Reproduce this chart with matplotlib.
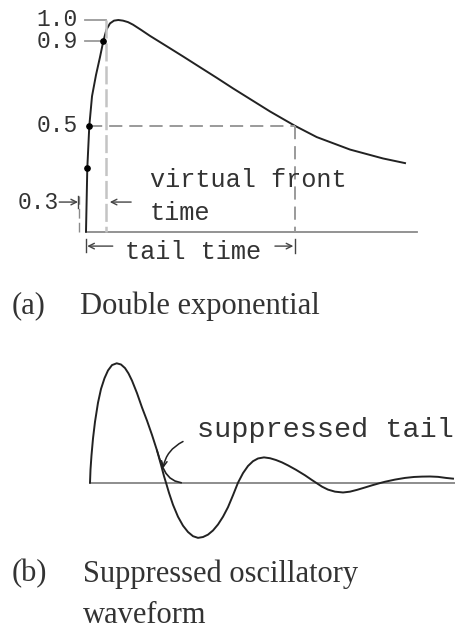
import numpy as np
import matplotlib
matplotlib.use("Agg")
from matplotlib import pyplot as plt

plt.rcParams['lines.scale_dashes'] = False

# (a) double exponential impulse, time in us (tail time = 50), per-unit voltage
imp_t = [0, 0.31, 0.79, 1.44, 2.39, 3.35, 4.14, 4.90, 5.74, 6.70, 7.73, 8.85,
         10.05, 11.24, 13.2, 15.31, 19.31, 23.21, 27.27, 31.27, 35.17, 39.23,
         44.02, 50.0, 55.19, 63.16, 71.05, 76.32]
imp_v = [0, 0.30, 0.50, 0.64, 0.74, 0.825, 0.90, 0.955, 0.984, 0.997, 1.0, 0.997,
         0.99, 0.978, 0.953, 0.925, 0.876, 0.828, 0.777, 0.727, 0.677, 0.627,
         0.568, 0.50, 0.447, 0.388, 0.346, 0.324]
level_marks = [0.3, 0.5, 0.9]
level_labels = ['1.0', '0.9', '0.5']
level_vals = [1.0, 0.9, 0.5]
tail_time = 50.0

# (b) oscillatory waveform and its suppressed tail
osc_t = [0, 0.05, 0.15, 0.3, 0.5, 0.8, 1.1, 1.45, 1.8, 2.2, 2.67, 3.1, 3.5,
         3.85, 4.2, 4.7, 5.2, 5.7, 6.2, 6.7, 7.1, 7.4, 7.6, 7.9, 8.3, 8.8, 9.3,
         9.8, 10.3, 10.8, 11.3, 11.8, 12.3, 12.8, 13.3, 13.8, 14.3, 14.8, 15.3,
         15.8, 16.3, 16.8, 17.4, 18.0, 18.6, 19.2, 19.8, 20.6, 21.5, 22.2, 22.6,
         23.2, 23.8, 24.5, 25.3, 26.0, 26.7, 27.5, 28.2, 29.0, 29.5, 30.5, 31.5,
         32.4, 33.2, 34.0, 34.8, 35.6, 36.3]
osc_v = [0, 0.11, 0.23, 0.37, 0.51, 0.67, 0.785, 0.875, 0.94, 0.985, 1.0, 0.99,
         0.96, 0.915, 0.855, 0.75, 0.63, 0.52, 0.40, 0.27, 0.15, 0.055, 0.0,
         -0.085, -0.185, -0.285, -0.36, -0.413, -0.448, -0.462, -0.455, -0.435,
         -0.40, -0.35, -0.285, -0.205, -0.105, 0.0, 0.08, 0.14, 0.18, 0.203,
         0.212, 0.205, 0.19, 0.17, 0.145, 0.108, 0.062, 0.022, 0.0, -0.033,
         -0.058, -0.075, -0.082, -0.075, -0.06, -0.04, -0.022, -0.003, 0.008,
         0.026, 0.040, 0.048, 0.051, 0.052, 0.049, 0.040, 0.034]
sup_t = [6.7, 7.0, 7.3, 7.6, 8.0, 8.5, 9.1]
sup_v = [0.27, 0.19, 0.125, 0.078, 0.04, 0.014, 0.0]

ink = '#222222'
dash_grey = '#9a9a9a'
mono = 'Liberation Mono'
serif = 'Liberation Serif'

fig = plt.figure(figsize=(4.56, 6.33), dpi=100)

# ---- (a) ----
ax = fig.add_axes([0, 1 - 270 / 633, 1, 270 / 633])
ax.set_xlim(-86 / 4.18, 370 / 4.18)
ax.set_ylim((231.7 - 270) / 211.7, 231.7 / 211.7)
ax.axis('off')

ax.plot([0, 79.1], [0, 0], color='#8a8a8a', lw=1.3)
ax.plot(imp_t, imp_v, color=ink, lw=1.4, solid_joinstyle='round')

t30 = np.interp(0.3, imp_v[:8], imp_t[:8])
t90 = np.interp(0.9, imp_v[:8], imp_t[:8])
t50 = np.interp(0.5, imp_v[:8], imp_t[:8])
origin = t30 - 0.5 * (t90 - t30)
front_end = origin + 1.67 * (t90 - t30)

# level markers
ax.plot([-0.3, front_end], [1.0, 1.0], color=dash_grey, lw=1.3)
ax.plot([-0.3, t90], [0.9, 0.9], color=dash_grey, lw=1.3)
ax.plot([t50, tail_time], [0.5, 0.5], color=dash_grey, lw=1.4, ls=(0, (9.5, 5)))
ax.plot([front_end, front_end], [1.0, 0], color='#c4c4c4', lw=1.8, ls=(0, (13, 3.5)))
ax.plot([tail_time, tail_time], [0.5, 0], color=dash_grey, lw=1.4, ls=(0, (9.5, 5)))
ax.plot([origin, origin], [0.0, 0.17], color='#8a8a8a', lw=1.0, ls=(0, (7, 3)))
ax.plot([np.interp(v, imp_v[:8], imp_t[:8]) for v in level_marks], level_marks,
        'o', color='black', ms=3.8)

for lab, val in zip(level_labels, level_vals):
    ax.text(-1.9, val, lab, ha='right', va='center', family=mono, fontsize=16.5,
            color='#333333')
ax.text(-6.6, 0.14, '0.3', ha='right', va='center', family=mono, fontsize=16.5,
        color='#333333')

arrow = dict(arrowstyle='->', color='#444444', lw=1.0, shrinkA=0, shrinkB=0)
ax.annotate('', xy=(origin - 0.3, 0.14), xytext=(-6.4, 0.14), arrowprops=arrow)
ax.plot([origin - 0.3] * 2, [0.11, 0.17], color='#444444', lw=1.0)
ax.annotate('', xy=(front_end + 0.9, 0.14), xytext=(10.8, 0.14), arrowprops=arrow)

ax.text(15.3, 0.2126, 'virtual front', ha='left', va='baseline', family=mono,
        fontsize=18.2, color='#333333')
ax.text(15.3, 0.055, 'time', ha='left', va='baseline', family=mono,
        fontsize=18.2, color='#333333')

# tail time dimension
ax.annotate('', xy=(0.3, -0.068), xytext=(6.4, -0.068), arrowprops=arrow)
ax.plot([0, 0], [-0.035, -0.095], color='#444444', lw=1.0)
ax.annotate('', xy=(tail_time - 0.4, -0.068), xytext=(45.2, -0.068), arrowprops=arrow)
ax.plot([tail_time] * 2, [-0.035, -0.1], color='#444444', lw=1.0)
ax.text(9.3, -0.13, 'tail time', ha='left', va='baseline', family=mono,
        fontsize=18.2, color='#333333')

# ---- (b) ----
bx = fig.add_axes([0, 0, 1, 353 / 633])
bx.set_xlim(-9.0, 36.6)
bx.set_ylim((482.7 - 633) / 119.4, (482.7 - 280) / 119.4)
bx.axis('off')

bx.plot([0, 36.5], [0, 0], color='#7a7a7a', lw=1.2)
bx.plot(osc_t, osc_v, color=ink, lw=1.4, solid_joinstyle='round')
bx.plot(sup_t, sup_v, color=ink, lw=1.2, solid_joinstyle='round')

bx.text(10.7, 0.385, 'suppressed tail', ha='left', va='baseline', family=mono,
        fontsize=20.5, color='#333333')
bx.annotate('', xy=(7.3, 0.12), xytext=(9.3, 0.345),
            arrowprops=dict(arrowstyle='->', color=ink, lw=1.1,
                            shrinkA=0, shrinkB=0,
                            connectionstyle='arc3,rad=0.25'))

# captions
cap = dict(family=serif, fontsize=22, color='#333333', va='baseline', ha='left')
fig.text(12 / 456, 1 - 313.5 / 633, '(a)', **cap)
fig.text(80 / 456, 1 - 313.5 / 633, 'Double exponential', **cap)
fig.text(12 / 456, 1 - 581.7 / 633, '(b)', **cap)
fig.text(83 / 456, 1 - 581.7 / 633, 'Suppressed oscillatory', **cap)
fig.text(83 / 456, 1 - 623.3 / 633, 'waveform', **cap)

fig.savefig('out.png', dpi=100, facecolor='white')
